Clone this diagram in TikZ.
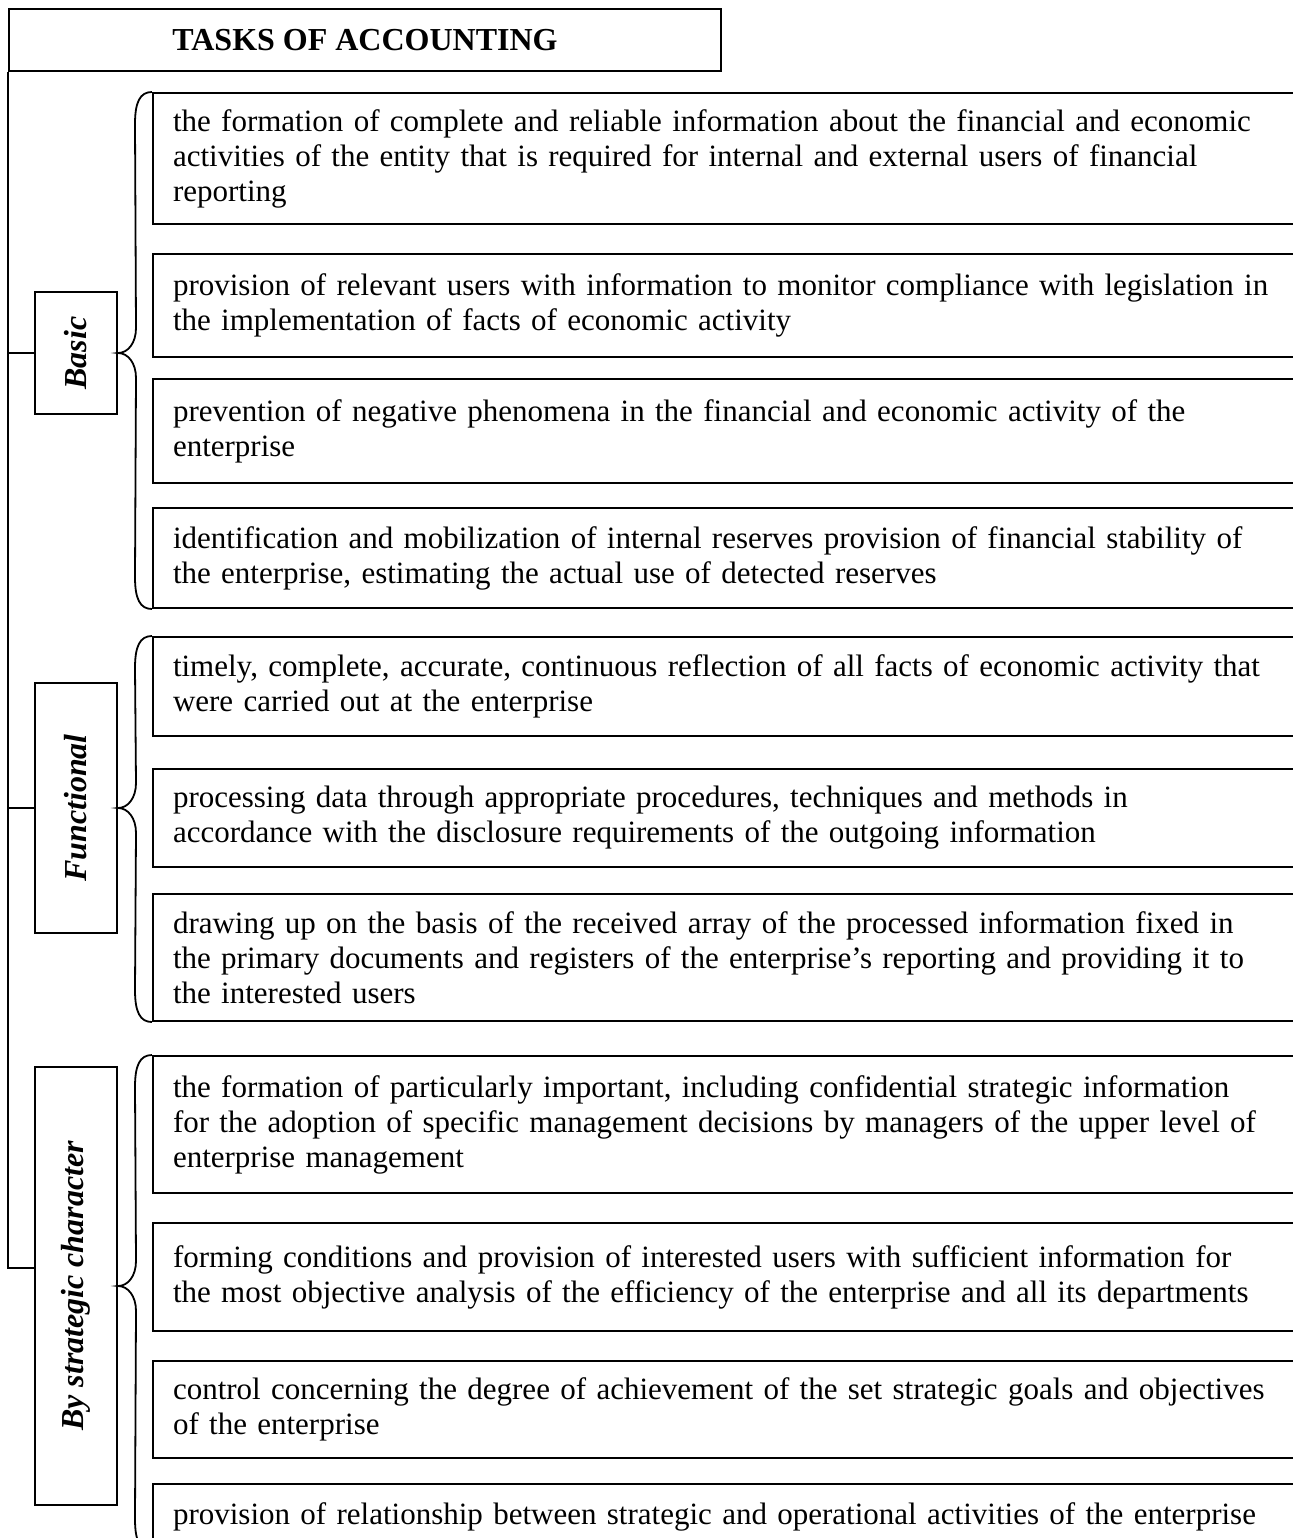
\documentclass[tikz,border=0pt]{standalone}
\usepackage{fontspec}
\setmainfont{Liberation Serif}
\usetikzlibrary{calc}
\begin{document}
\begin{tikzpicture}[x=0.5pt,y=-0.5pt,line width=1pt,
  headbox/.style={draw,anchor=north west,inner sep=0pt,
    minimum width=356pt,minimum height=31pt,
    font=\fontsize{16}{18}\selectfont\bfseries},
  kindbox/.style={draw,inner sep=0pt,minimum height=41pt,rotate=90,
    font=\fontsize{16}{18}\selectfont\bfseries\itshape},
  taskbox/.style={draw,anchor=north west,align=left,inner xsep=10pt,inner ysep=0pt,
    text width=570pt,font=\fontsize{15.5}{17.5}\selectfont},
  brace/.style={line width=0.9pt}]
\useasboundingbox (0,0) rectangle (1293,1538);
\clip (0,0) rectangle (1293,1538);

% heading
\node[headbox] (title) at (8,8) {TASKS OF ACCOUNTING};

% groups of tasks (rotated: the node's north side faces left)
\node[kindbox,minimum width=61pt] (kb) at (76,353) {Basic};
\node[kindbox,minimum width=125pt] (kf) at (76,808) {Functional};
\node[kindbox,minimum width=219pt] (ks) at (76,1286) {By strategic character};

% basic tasks
\node[taskbox,minimum height=65.5pt] (b1) at (152,92) {the formation of complete and reliable information about the financial and economic\\activities of the entity that is required for internal and external users of financial\\reporting};
\node[taskbox,minimum height=51.5pt] (b2) at (152,253) {provision of relevant users with information to monitor compliance with legislation in\\the implementation of facts of economic activity};
\node[taskbox,minimum height=52pt] (b3) at (152,378) {prevention of negative phenomena in the financial and economic activity of the\\enterprise};
\node[taskbox,minimum height=50pt] (b4) at (152,507) {identification and mobilization of internal reserves provision of financial stability of\\the enterprise, estimating the actual use of detected reserves};

% functional tasks
\node[taskbox,minimum height=49.5pt] (f1) at (152,636) {timely, complete, accurate, continuous reflection of all facts of economic activity that\\were carried out at the enterprise};
\node[taskbox,minimum height=49pt] (f2) at (152,768) {processing data through appropriate procedures, techniques and methods in\\accordance with the disclosure requirements of the outgoing information};
\node[taskbox,minimum height=63.5pt] (f3) at (152,893) {drawing up on the basis of the received array of the processed information fixed in\\the primary documents and registers of the enterprise's reporting and providing it to\\the interested users};

% strategic tasks
\node[taskbox,minimum height=68.5pt] (s1) at (152,1055) {the formation of particularly important, including confidential strategic information\\for the adoption of specific management decisions by managers of the upper level of\\enterprise management};
\node[taskbox,minimum height=54pt] (s2) at (152,1222) {forming conditions and provision of interested users with sufficient information for\\the most objective analysis of the efficiency of the enterprise and all its departments};
\node[taskbox,minimum height=48.5pt] (s3) at (152,1360) {control concerning the degree of achievement of the set strategic goals and objectives\\of the enterprise};
\node[taskbox,minimum height=33pt] (s4) at (152,1483) {provision of relationship between strategic and operational activities of the enterprise};

% trunk line and branches
\draw (title.south west) |- ($(ks.north)+(0,-18)$);
\draw (kb.north) -- (kb.north -| title.west);
\draw (kf.north) -- (kf.north -| title.west);

% braces
\draw[brace] (b1.north west) .. controls +(-12,0) and +(0,-22) .. ($(b1.north west)+(-17,32)$)
  -- ($(kb.south)+(18,-25)$) .. controls +(0,15) and +(10,0) .. (kb.south)
  .. controls +(10,0) and +(0,-15) .. ($(kb.south)+(18,25)$)
  -- ($(b4.south west)+(-17,-32)$) .. controls +(0,22) and +(-12,0) .. (b4.south west);
\draw[brace] (f1.north west) .. controls +(-12,0) and +(0,-22) .. ($(f1.north west)+(-17,32)$)
  -- ($(kf.south)+(18,-25)$) .. controls +(0,15) and +(10,0) .. (kf.south)
  .. controls +(10,0) and +(0,-15) .. ($(kf.south)+(18,25)$)
  -- ($(f3.south west)+(-17,-32)$) .. controls +(0,22) and +(-12,0) .. (f3.south west);
\draw[brace] (s1.north west) .. controls +(-12,0) and +(0,-22) .. ($(s1.north west)+(-17,32)$)
  -- ($(ks.south)+(18,-25)$) .. controls +(0,15) and +(10,0) .. (ks.south)
  .. controls +(10,0) and +(0,-15) .. ($(ks.south)+(18,25)$)
  -- ($(s4.south west)+(-17,-32)$) .. controls +(0,22) and +(-12,0) .. (s4.south west);
\end{tikzpicture}
\end{document}
